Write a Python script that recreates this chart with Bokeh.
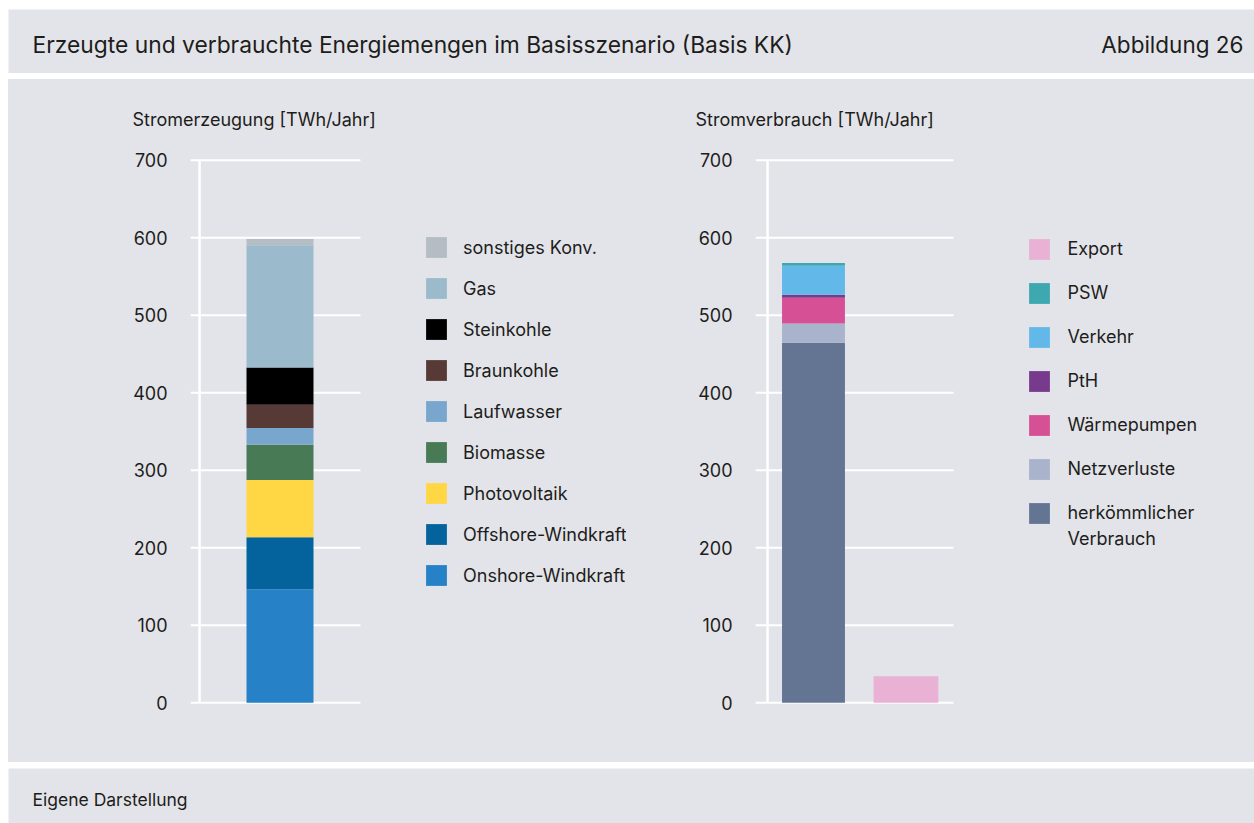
from bokeh.plotting import figure
from bokeh.models import (ColumnDataSource, Range1d, Legend, LegendItem,
                          FixedTicker, Label, Spacer)
from bokeh.layouts import column, row
from bokeh.embed import file_html
from bokeh.resources import INLINE

FONT = "Inter"
BG = "#e3e4e9"
TXT = "#1d1d1b"

# ---------------- data ----------------
title_text = "Erzeugte und verbrauchte Energiemengen im Basisszenario (Basis KK)"
fig_no = "Abbildung 26"
source_note = "Eigene Darstellung"
left_title = "Stromerzeugung [TWh/Jahr]"
right_title = "Stromverbrauch [TWh/Jahr]"

gen_labels = ["Onshore-Windkraft", "Offshore-Windkraft", "Photovoltaik", "Biomasse",
              "Laufwasser", "Braunkohle", "Steinkohle", "Gas", "sonstiges Konv."]
gen_values = [146.5, 67.0, 74.0, 45.5, 21.5, 30.0, 48.0, 158.0, 8.0]
gen_colors = ["#2681c6", "#04639c", "#ffd744", "#477a55", "#78a6cc",
              "#573a35", "#000000", "#9bbacc", "#b4bcc4"]

use_labels = ["herkömmlicher", "Netzverluste", "Wärmepumpen", "PtH",
              "Verkehr", "PSW"]
use_label_line2 = "Verbrauch"   # second line of "herkömmlicher Verbrauch"
use_values = [464.5, 25.0, 33.0, 4.0, 37.5, 3.5]
use_colors = ["#637593", "#aab3cc", "#d65096", "#773a8c", "#62b8e8", "#3ea8b0"]

export_label = "Export"
export_value = 34.0
export_color = "#e9b1d4"

y_ticks = [0, 100, 200, 300, 400, 500, 600, 700]


def style_chart(p, title, title_offset, x_lo, x_hi, axis_x):
    p.background_fill_color = BG
    p.border_fill_color = BG
    p.outline_line_color = None
    p.yaxis.ticker = FixedTicker(ticks=y_ticks)
    p.yaxis.axis_line_color = None
    p.yaxis.major_tick_line_color = None
    p.yaxis.minor_tick_line_color = None
    p.yaxis.major_tick_out = 0
    p.yaxis.major_tick_in = 0
    p.yaxis.major_label_standoff = 23
    p.yaxis.major_label_text_font = FONT
    p.yaxis.major_label_text_font_size = "18px"
    p.yaxis.major_label_text_color = TXT
    p.grid.visible = False
    # horizontal grid lines drawn only across the plot area
    p.segment(x0=[x_lo] * len(y_ticks), y0=y_ticks, x1=[x_hi] * len(y_ticks),
              y1=y_ticks, line_color="white", line_width=2, level="underlay")
    # vertical axis line
    p.segment(x0=[axis_x], y0=[y_ticks[0]], x1=[axis_x], y1=[y_ticks[-1]],
              line_color="white", line_width=2.5, level="underlay")
    p.title.text = title
    p.title.align = "left"
    p.title.offset = title_offset
    p.title.standoff = 54
    p.title.text_font = FONT
    p.title.text_font_size = "18px"
    p.title.text_font_style = "normal"
    p.title.text_color = TXT


def legend_for(items, loc, spacing, standoff):
    return Legend(items=items, location=loc, glyph_width=26, glyph_height=26,
                  label_height=20, label_standoff=standoff, spacing=spacing,
                  padding=0, margin=0, background_fill_alpha=0,
                  border_line_color=None, label_text_font=FONT,
                  label_text_font_size="18px", label_text_color=TXT)


# ---------------- header ----------------
W = 1246
header = figure(width=W, height=64, x_range=Range1d(0, W), y_range=Range1d(0, 64),
                toolbar_location=None, output_backend="svg",
                x_axis_location=None, y_axis_location=None, min_border=0)
header.background_fill_color = BG
header.border_fill_color = BG
header.outline_line_color = None
header.grid.visible = False
header.add_layout(Label(x=24, y=29, text=title_text, text_font=FONT,
                        text_font_size="22.8px", text_color=TXT,
                        text_baseline="middle", text_align="left"))
header.add_layout(Label(x=1235, y=29, text=fig_no, text_font=FONT,
                        text_font_size="22.5px", text_color=TXT,
                        text_baseline="middle", text_align="right"))

# ---------------- left chart ----------------
H = 683
left = figure(width=623, height=H, x_range=Range1d(-1.336, 5.172),
              y_range=Range1d(-5, 705), toolbar_location=None,
              output_backend="svg", x_axis_location=None,
              min_border_left=182, min_border_right=5,
              min_border_top=76, min_border_bottom=56)
style_chart(left, left_title, -58, -1.336, 1.201, -1.201)
gen_keys = [f"g{i}" for i in range(len(gen_values))]
gen_src = ColumnDataSource(dict(x=[0], **{k: [v] for k, v in zip(gen_keys, gen_values)}))
gen_r = left.vbar_stack(gen_keys, x="x", width=1.0, color=gen_colors,
                        line_color=None, source=gen_src)
gen_items = [LegendItem(label=l, renderers=[r]) for l, r in zip(gen_labels, gen_r)][::-1]
left.add_layout(legend_for(gen_items, (233, 118), 15, 14))

# ---------------- right chart ----------------
right = figure(width=623, height=H, x_range=Range1d(-0.627, 4.714),
               y_range=Range1d(-5, 705), toolbar_location=None,
               output_backend="svg", x_axis_location=None,
               min_border_left=124, min_border_right=5,
               min_border_top=76, min_border_bottom=56)
style_chart(right, right_title, -60, -0.627, 1.514, -0.497)
use_keys = [f"u{i}" for i in range(len(use_values))]
use_src = ColumnDataSource(dict(x=[0], **{k: [v] for k, v in zip(use_keys, use_values)}))
use_r = right.vbar_stack(use_keys, x="x", width=0.68, color=use_colors,
                         line_color=None, source=use_src)
exp_src = ColumnDataSource(dict(x=[1], top=[export_value]))
exp_r = right.vbar(x="x", top="top", width=0.7, color=export_color,
                   line_color=None, source=exp_src)
use_items = [LegendItem(label=export_label, renderers=[exp_r])] + \
            [LegendItem(label=l, renderers=[r]) for l, r in zip(use_labels, use_r)][::-1]
right.add_layout(legend_for(use_items, (271.4, 180.5), 18, 15))
right.add_layout(Label(x=2.746, y=212.5, text=use_label_line2, text_font=FONT,
                       text_font_size="18px", text_color=TXT,
                       text_baseline="middle", text_align="left"))

# ---------------- footer ----------------
footer = figure(width=W, height=55, x_range=Range1d(0, W), y_range=Range1d(0, 55),
                toolbar_location=None, output_backend="svg",
                x_axis_location=None, y_axis_location=None, min_border=0)
footer.background_fill_color = BG
footer.border_fill_color = BG
footer.outline_line_color = None
footer.grid.visible = False
footer.add_layout(Label(x=24, y=24, text=source_note, text_font=FONT,
                        text_font_size="17.5px", text_color=TXT,
                        text_baseline="middle", text_align="left"))

charts = row(left, right, spacing=0, styles={"background-color": BG})
content = column(header, charts, footer, spacing=6)
layout = column(Spacer(height=9), row(Spacer(width=8), content, spacing=0), spacing=0)

open("out.html", "w").write(file_html(layout, INLINE))
